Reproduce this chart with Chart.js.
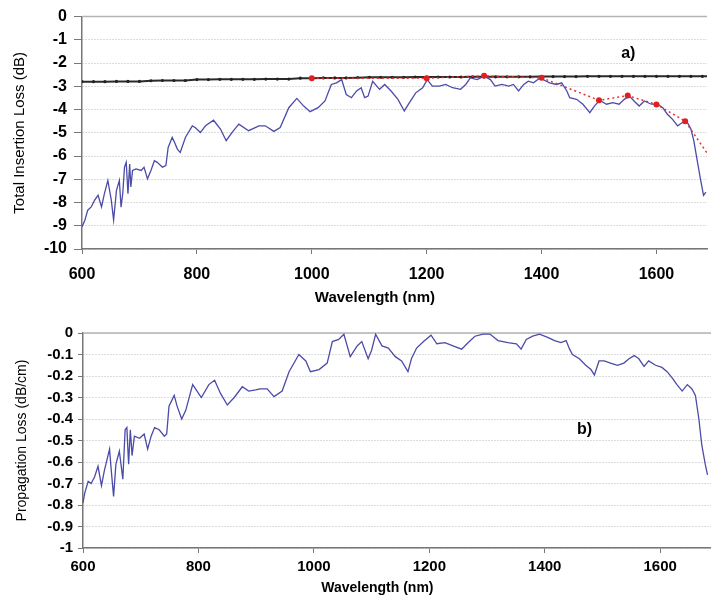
<!DOCTYPE html>
<html>
<head>
<meta charset="utf-8">
<script src="https://cdn.jsdelivr.net/npm/chart.js@4.4.0/dist/chart.umd.min.js"></script>
<style>
  body { margin: 0; background: #fff; }
  #wrap { position: relative; width: 711px; height: 597px; }
  canvas { position: absolute; left: 0; }
  #lossChart { top: 0; }
  #propChart { top: 306px; }
</style>
</head>
<body>
<div id="wrap">
  <canvas id="lossChart" width="711" height="306"></canvas>
  <canvas id="propChart" width="711" height="291"></canvas>
</div>
<script>
// Panel a) measured total insertion loss (blue trace)
const lossWl = [600, 605, 610, 616, 622, 628, 634, 639, 645, 651, 655, 660, 665, 668, 671, 674, 677, 680, 683, 685,
  688, 694, 703, 708, 714, 720, 726, 731, 740, 746, 750, 757, 761, 766, 771, 780, 792, 797, 806, 815,
  829, 841, 851, 861, 873, 890, 908, 919, 934, 945, 960, 974, 986, 997, 1011, 1023, 1034, 1043, 1052, 1060,
  1069, 1078, 1086, 1092, 1098, 1106, 1118, 1127, 1138, 1150, 1161, 1170, 1181, 1193, 1201, 1210, 1222, 1233, 1245, 1259,
  1268, 1276, 1288, 1300, 1311, 1319, 1331, 1343, 1351, 1360, 1369, 1377, 1386, 1397, 1414, 1426, 1435, 1444, 1449, 1461,
  1472, 1484, 1492, 1501, 1513, 1524, 1535, 1544, 1553, 1561, 1570, 1579, 1591, 1602, 1611, 1619, 1628, 1637, 1645, 1654,
  1660, 1665, 1671, 1677, 1682, 1686];
const lossDb = [-9.05, -8.76, -8.33, -8.19, -7.9, -7.69, -8.19, -7.62, -7.05, -7.9, -8.76, -7.48, -7.05, -8.2, -7.6, -6.48, -6.27, -7.62, -6.34, -7.33,
  -6.62, -6.55, -6.62, -6.48, -6.98, -6.62, -6.2, -6.27, -6.48, -6.41, -5.63, -5.2, -5.41, -5.7, -5.85, -5.2, -4.7, -4.77, -4.99, -4.7,
  -4.46, -4.84, -5.34, -4.99, -4.63, -4.91, -4.7, -4.7, -4.94, -4.77, -3.92, -3.52, -3.85, -4.09, -3.92, -3.63, -2.92, -2.85, -2.71, -3.35,
  -3.49, -3.2, -3.06, -3.49, -3.42, -2.78, -3.13, -2.92, -3.2, -3.56, -4.06, -3.7, -3.28, -3.06, -2.71, -2.99, -2.99, -2.92, -3.06, -3.13,
  -2.92, -2.64, -2.71, -2.56, -2.71, -2.99, -2.92, -2.99, -2.92, -3.2, -2.92, -2.78, -2.85, -2.64, -2.85, -2.92, -2.85, -3.2, -3.49, -3.56,
  -3.77, -4.13, -3.85, -3.6, -3.77, -3.7, -3.77, -3.56, -3.42, -3.63, -3.85, -3.63, -3.77, -3.77, -3.92, -4.2, -4.42, -4.7, -4.56, -4.56,
  -4.84, -5.34, -6.2, -7.05, -7.69, -7.55];

// Panel a) reference level (black beaded line)
const refWl = [600, 620, 640, 660, 680, 700, 720, 740, 760, 780, 800, 820, 840, 860, 880, 900, 920, 940, 960, 980,
  1000, 1020, 1040, 1060, 1080, 1100, 1120, 1140, 1160, 1180, 1200, 1220, 1240, 1260, 1280, 1300, 1320, 1340, 1360, 1380,
  1400, 1420, 1440, 1460, 1480, 1500, 1520, 1540, 1560, 1580, 1600, 1620, 1640, 1660, 1680, 1700];
const refDb = [-2.80, -2.80, -2.80, -2.79, -2.79, -2.79, -2.76, -2.75, -2.75, -2.75, -2.71, -2.71, -2.70, -2.70, -2.70, -2.70, -2.69, -2.69, -2.69, -2.65,
  -2.65, -2.64, -2.64, -2.64, -2.63, -2.61, -2.61, -2.61, -2.61, -2.60, -2.60, -2.60, -2.60, -2.60, -2.59, -2.59, -2.59, -2.59, -2.59, -2.59,
  -2.58, -2.58, -2.58, -2.58, -2.57, -2.57, -2.57, -2.57, -2.57, -2.57, -2.57, -2.57, -2.57, -2.57, -2.57, -2.57];

// Panel a) red markers and dotted guide
const fitWl = [1000, 1200, 1300, 1400, 1500, 1550, 1600, 1650, 1700];
const fitDb = [-2.65, -2.65, -2.55, -2.63, -3.6, -3.4, -3.78, -4.5, -6.3];

// Panel b) propagation loss
const propWl = [600, 603, 609, 614, 620, 626, 632, 637, 646, 649, 653, 657, 663, 669, 673, 676, 679, 682, 685, 689,
  698, 706, 712, 718, 724, 732, 741, 745, 749, 758, 763, 771, 778, 790, 795, 805, 818, 828, 838, 850,
  862, 876, 887, 899, 907, 919, 931, 945, 957, 974, 986, 994, 1009, 1023, 1032, 1043, 1052, 1063, 1075, 1083,
  1094, 1100, 1107, 1118, 1129, 1141, 1152, 1163, 1169, 1178, 1190, 1203, 1213, 1227, 1241, 1256, 1267, 1279, 1293, 1305,
  1319, 1336, 1351, 1359, 1368, 1379, 1391, 1405, 1417, 1428, 1437, 1443, 1448, 1460, 1471, 1480, 1486, 1494, 1503, 1514,
  1526, 1537, 1546, 1555, 1563, 1572, 1580, 1592, 1603, 1612, 1621, 1629, 1638, 1647, 1655, 1661, 1667, 1672, 1678, 1682];
const propDb = [-0.79, -0.745, -0.69, -0.70, -0.67, -0.62, -0.71, -0.64, -0.54, -0.64, -0.76, -0.61, -0.55, -0.68, -0.45, -0.44, -0.61, -0.45, -0.57, -0.48,
  -0.49, -0.47, -0.54, -0.48, -0.44, -0.45, -0.48, -0.47, -0.34, -0.29, -0.34, -0.40, -0.36, -0.24, -0.26, -0.30, -0.24, -0.22, -0.28, -0.335,
  -0.30, -0.25, -0.27, -0.265, -0.26, -0.26, -0.296, -0.27, -0.18, -0.10, -0.13, -0.18, -0.17, -0.14, -0.04, -0.03, -0.006, -0.11, -0.06, -0.04,
  -0.12, -0.08, -0.006, -0.06, -0.07, -0.11, -0.13, -0.18, -0.12, -0.07, -0.04, -0.01, -0.05, -0.045, -0.06, -0.075, -0.045, -0.015, -0.005, -0.005,
  -0.035, -0.045, -0.05, -0.075, -0.03, -0.015, -0.005, -0.02, -0.035, -0.045, -0.035, -0.075, -0.10, -0.12, -0.15, -0.17, -0.195, -0.13, -0.13, -0.14,
  -0.15, -0.14, -0.12, -0.105, -0.12, -0.155, -0.13, -0.15, -0.16, -0.18, -0.21, -0.24, -0.27, -0.24, -0.26, -0.29, -0.40, -0.52, -0.61, -0.66];

const FONT = '"Liberation Sans", Arial, sans-serif';
Chart.defaults.font.family = FONT;
Chart.defaults.color = '#000';

function toPoints(xs, ys) {
    return xs.map((x, i) => ({ x: x, y: ys[i] }));
}

// plain tick text: 1000 not 1,000 ; -1 not -1.0
function plainTick(v) {
    return String(Number(v.toFixed(1)) || 0);
}

// Draws the solid top edge, the x axis title and the panel tag
const panelText = {
    id: 'panelText',
    beforeDatasetsDraw(chart, args, opts) {
        const ctx = chart.ctx;
        const xs = chart.scales.x;
        const ys = chart.scales.y;
        ctx.save();
        ctx.strokeStyle = '#b4b4b4';
        ctx.lineWidth = 1.5;
        ctx.beginPath();
        ctx.moveTo(xs.left, ys.top);
        ctx.lineTo(xs.right, ys.top);
        ctx.stroke();

        ctx.fillStyle = '#000';
        ctx.textAlign = 'center';
        ctx.textBaseline = 'middle';
        ctx.font = 'bold ' + opts.titleSize + 'px ' + FONT;
        ctx.fillText('Wavelength (nm)', xs.getPixelForValue(1110), opts.titleY);
        ctx.font = 'bold 16px ' + FONT;
        ctx.fillText(opts.tag, xs.getPixelForValue(opts.tagAt[0]), ys.getPixelForValue(opts.tagAt[1]));
        ctx.restore();
    }
};

function makeScales(cfg) {
    return {
        x: {
            type: 'linear',
            min: 600,
            max: 1688,
            ticks: {
                stepSize: 200,
                includeBounds: false,
                maxRotation: 0,
                padding: cfg.xPad,
                font: { size: cfg.xFont, weight: 'bold' },
                callback: plainTick
            },
            grid: { drawOnChartArea: false, tickLength: 5, tickColor: '#777' },
            border: { color: '#777', width: 1.5 },
            afterFit: function(s) { s.height = cfg.xHeight; }
        },
        y: {
            min: cfg.yMin,
            max: 0,
            ticks: {
                stepSize: cfg.yStep,
                padding: cfg.yPad,
                font: { size: cfg.yFont, weight: 'bold' },
                callback: plainTick
            },
            grid: { color: '#b8b8b8', lineWidth: 1, tickLength: cfg.yTick, tickColor: '#777' },
            border: { color: '#777', width: 1.5, dash: [1, 2] },
            title: {
                display: true,
                text: cfg.yTitle,
                font: { size: cfg.yTitleSize },
                padding: { top: cfg.yTitlePad, bottom: 0 }
            },
            afterFit: function(s) { s.width = cfg.yWidth; }
        }
    };
}

// Panel a)
new Chart(document.getElementById('lossChart').getContext('2d'), {
    type: 'line',
    data: {
        datasets: [{
            data: toPoints(fitWl, fitDb),
            borderColor: '#e8302a',
            borderWidth: 1.5,
            borderDash: [2, 3],
            pointRadius: 3,
            pointBackgroundColor: '#e02020',
            pointBorderWidth: 0
        }, {
            data: toPoints(lossWl, lossDb),
            borderColor: '#4b4ba8',
            borderWidth: 1.3,
            pointRadius: 0
        }, {
            data: toPoints(refWl, refDb),
            borderColor: '#2a2a2a',
            borderWidth: 2,
            pointRadius: 1.6,
            pointBackgroundColor: '#222',
            pointBorderWidth: 0
        }]
    },
    options: {
        responsive: false,
        animation: false,
        layout: { padding: { top: 15, right: 0, bottom: 0, left: 0 } },
        scales: makeScales({
            xPad: 11, xFont: 16, xHeight: 57,
            yMin: -10, yStep: 1, yPad: 7, yFont: 16, yTick: 8, yWidth: 82,
            yTitle: 'Total Insertion Loss (dB)', yTitleSize: 15, yTitlePad: 11
        }),
        plugins: {
            legend: { display: false },
            tooltip: { enabled: false },
            panelText: { titleY: 298, titleSize: 15, tag: 'a)', tagAt: [1551, -1.6] }
        }
    },
    plugins: [panelText]
});

// Panel b)
new Chart(document.getElementById('propChart').getContext('2d'), {
    type: 'line',
    data: {
        datasets: [{
            data: toPoints(propWl, propDb),
            borderColor: '#4b4ba8',
            borderWidth: 1.3,
            pointRadius: 0
        }]
    },
    options: {
        responsive: false,
        animation: false,
        layout: { padding: { top: 27, right: 0, bottom: 0, left: 0 } },
        scales: makeScales({
            xPad: 5, xFont: 15, xHeight: 49,
            yMin: -1, yStep: 0.1, yPad: 5, yFont: 15, yTick: 5, yWidth: 83,
            yTitle: 'Propagation Loss (dB/cm)', yTitleSize: 14, yTitlePad: 14
        }),
        plugins: {
            legend: { display: false },
            tooltip: { enabled: false },
            panelText: { titleY: 282, titleSize: 14, tag: 'b)', tagAt: [1469, -0.45] }
        }
    },
    plugins: [panelText]
});
</script>
</body>
</html>
